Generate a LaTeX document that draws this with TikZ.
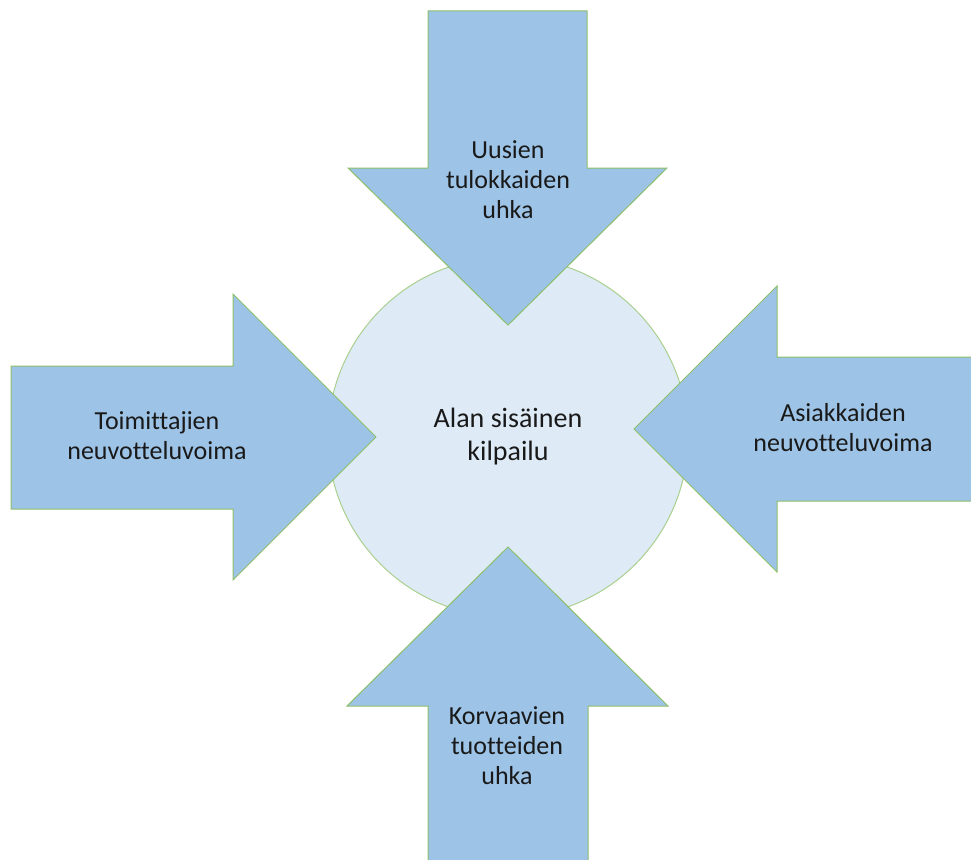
\documentclass[tikz,border=0pt]{standalone}
\usepackage{fontspec}
\setmainfont{Carlito}[Ligatures=NoCommon]
\definecolor{forceblue}{HTML}{9DC3E6}
\definecolor{coreblue}{HTML}{DEEBF7}
\definecolor{forceedge}{HTML}{8DBF6B}
\definecolor{coreedge}{HTML}{A9D08E}
\tikzset{
  force/.style={fill=forceblue, draw=forceedge, line width=1pt},
  forcetext/.style={align=center, font=\fontsize{26}{30}\selectfont, text=black!90},
}
\begin{document}
\begin{tikzpicture}[x=1pt,y=-1pt]
            \useasboundingbox (0,0) rectangle (971,859);
            % keskusta
            \node[circle, minimum size=360pt, fill=coreblue, draw=coreedge, line width=1pt,
                  align=center, font=\fontsize{28}{33}\selectfont, text=black!90]
                  (rivalry) at (508,437) {Alan sisäinen\\kilpailu};
            % nuolet
            \draw[force] (428,11) -- (587,11) -- (587,168) -- (667,168) -- (508,325)
                -- (348,168) -- (428,168) -- cycle;
            \draw[force] (11,366) -- (233,366) -- (233,294) -- (376,437) -- (233,580)
                -- (233,509) -- (11,509) -- cycle;
            \draw[force] (976,357) -- (777,357) -- (777,286) -- (634,429) -- (777,572)
                -- (777,501) -- (976,501) -- cycle;
            \draw[force] (428,865) -- (428,706) -- (347,706) -- (508,547) -- (668,706)
                -- (588,706) -- (588,865) -- cycle;
            % tekstit
            \node[forcetext] (entrants) at (508,180) {Uusien\\tulokkaiden\\uhka};
            \node[forcetext] (suppliers) at (157,436) {Toimittajien\\neuvotteluvoima};
            \node[forcetext] (buyers) at (843,428) {Asiakkaiden\\neuvotteluvoima};
            \node[forcetext] (substitutes) at (507,746) {Korvaavien\\tuotteiden\\uhka};
\end{tikzpicture}
\end{document}
